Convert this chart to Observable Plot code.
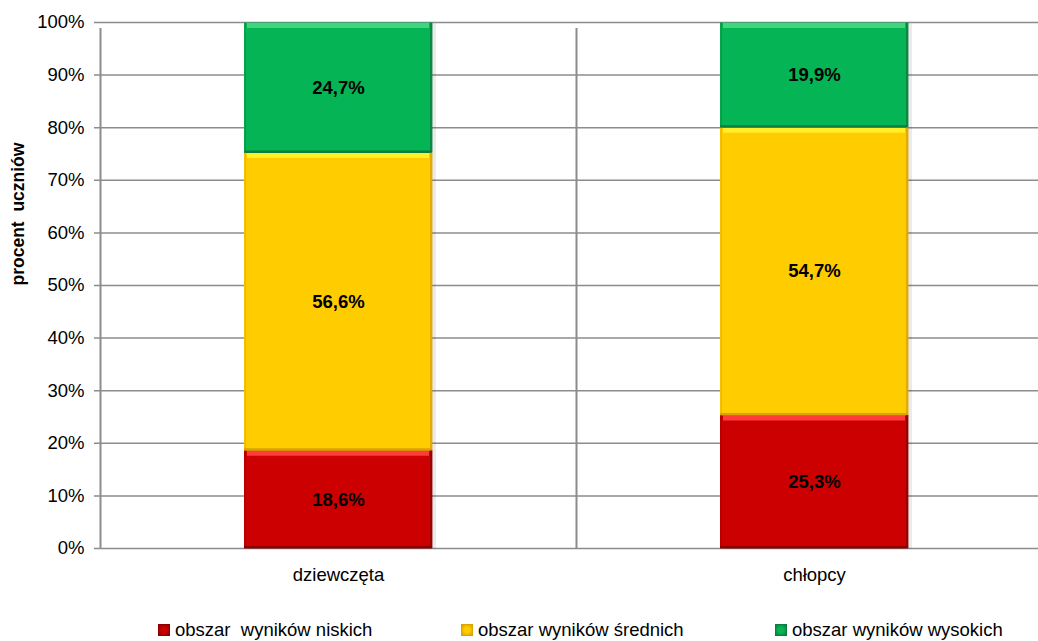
<!DOCTYPE html>
<html>
<head>
<meta charset="utf-8">
<script src="https://cdn.jsdelivr.net/npm/d3@7"></script>
<script src="https://cdn.jsdelivr.net/npm/@observablehq/plot@0.6"></script>
<style>
  html, body { margin: 0; padding: 0; background: #fff; overflow: hidden; width: 1038px; height: 641px; }
  #chart { position: absolute; left: 0; top: 0; width: 1052px; }
  #chart svg { max-width: none !important; }
  #legend { position: absolute; left: 0; top: 619px; width: 1038px; height: 22px; font-family: "Liberation Sans", Arial, sans-serif; font-size: 18.5px; color: #000; }
  .item { position: absolute; top: 0; height: 22px; line-height: 22px; white-space: pre; }
  .sw { position: absolute; width: 12px; height: 12px; top: 5px; box-sizing: border-box; }
  .lab { position: absolute; top: 0; white-space: pre; }
</style>
</head>
<body>
<div id="chart"></div>
<div id="legend"></div>
<script>
// ---- data ----
const categories = ["dziewczęta", "chłopcy"];
const seriesNames = ["obszar  wyników niskich", "obszar wyników średnich", "obszar wyników wysokich"];
const lowValues = [18.6, 25.3];
const midValues = [56.6, 54.7];
const highValues = [24.7, 19.9];
const yTicks = [0, 10, 20, 30, 40, 50, 60, 70, 80, 90, 100];
const yLabel = "procent  uczniów";

// ---- styles ----
const fillColors = ["#CC0000", "#FFCC00", "#05B555"];
const topColors = ["#FF3B3B", "#FFF02A", "#3FD67F"];
const edgeColors = ["#8E0000", "#D9A300", "#0A7E3E"];
const W = 1052, H = 600, mL = 100, mR = 0, mT = 22, mB = 52;
const bw = (W - mL - mR) / categories.length;
const barW = 188;
const inset = (bw - barW) / 2;

const seriesValues = [lowValues, midValues, highValues];
const rows = [];
seriesNames.forEach((s, si) => categories.forEach((c, ci) => rows.push({cat: c, series: s, si, value: seriesValues[si][ci]})));
const totals = categories.map((c, ci) => ({cat: c, total: seriesValues.reduce((a, v) => a + v[ci], 0)}));
const fmt = v => v.toFixed(1).replace(".", ",") + "%";

const marks = [];
// horizontal gridlines
marks.push(Plot.ruleY(yTicks, {stroke: "#8c8c8c", strokeWidth: 1.5, insetLeft: -6}));
// vertical gridlines at category boundaries
marks.push(Plot.ruleX(categories, {x: d => d, dx: -bw / 2, y1: 0, y2: 100, stroke: "#8c8c8c", strokeWidth: 2, insetBottom: -6}));
// shadow
marks.push(Plot.barY(totals, {x: "cat", y: "total", fill: "#000", fillOpacity: 0.08, dx: 4, dy: 1, insetLeft: inset, insetRight: inset}));
// stacked bars
marks.push(Plot.barY(rows, Plot.stackY({x: "cat", y: "value", fill: d => fillColors[d.si], insetLeft: inset, insetRight: inset})));
// bevel: top highlight, bottom and side dark edges
marks.push(Plot.tickY(rows, Plot.stackY2({x: "cat", y: "value", stroke: d => topColors[d.si], strokeWidth: 5, dy: 2.5, insetLeft: inset + 3, insetRight: inset + 3})));
marks.push(Plot.tickY(rows, Plot.stackY1({x: "cat", y: "value", stroke: d => edgeColors[d.si], strokeWidth: 2.5, dy: -1.25, insetLeft: inset, insetRight: inset})));
marks.push(Plot.ruleX(rows, Plot.stackY({x: "cat", y: "value", stroke: d => edgeColors[d.si], strokeWidth: 2.5, dx: barW / 2 - 1.25, strokeOpacity: 0.8})));
marks.push(Plot.ruleX(rows, Plot.stackY({x: "cat", y: "value", stroke: d => edgeColors[d.si], strokeWidth: 1.5, dx: -barW / 2 + 0.75, strokeOpacity: 0.5})));
// value labels
marks.push(Plot.text(rows, Plot.stackY({x: "cat", y: "value", text: d => fmt(d.value), fontWeight: "bold", fontSize: 18.5, fill: "#000"})));
// y axis title
marks.push(Plot.text([yLabel], {frameAnchor: "left", rotate: -90, dx: -82, fontWeight: "bold", fontSize: 17.5, fill: "#000"}));

const chart = Plot.plot({
  width: W, height: H,
  marginLeft: mL, marginRight: mR, marginTop: mT, marginBottom: mB,
  style: {fontFamily: "'Liberation Sans', Arial, sans-serif", fontSize: "18.5px", color: "#000", background: "transparent", overflow: "visible", maxWidth: "none"},
  color: {type: "identity"},
  x: {domain: categories, padding: 0, label: null, tickSize: 0, tickPadding: 19},
  y: {domain: [0, 100], ticks: yTicks, tickFormat: d => d + "%", label: null, tickSize: 0, tickPadding: 16},
  marks
});
document.getElementById("chart").appendChild(chart);

// legend
const legendLeft = [158, 461, 775];
const legend = document.getElementById("legend");
seriesNames.forEach((s, si) => {
  const it = document.createElement("div");
  it.className = "item";
  it.style.left = legendLeft[si] + "px";
  const sw = document.createElement("div");
  sw.className = "sw";
  sw.style.left = "0px";
  sw.style.background = `radial-gradient(circle, ${fillColors[si]} 35%, ${edgeColors[si]} 100%)`;
  sw.style.border = `1px solid ${edgeColors[si]}`;
  const lab = document.createElement("div");
  lab.className = "lab";
  lab.style.left = "17px";
  lab.textContent = s;
  it.appendChild(sw); it.appendChild(lab);
  legend.appendChild(it);
});
</script>
</body>
</html>
